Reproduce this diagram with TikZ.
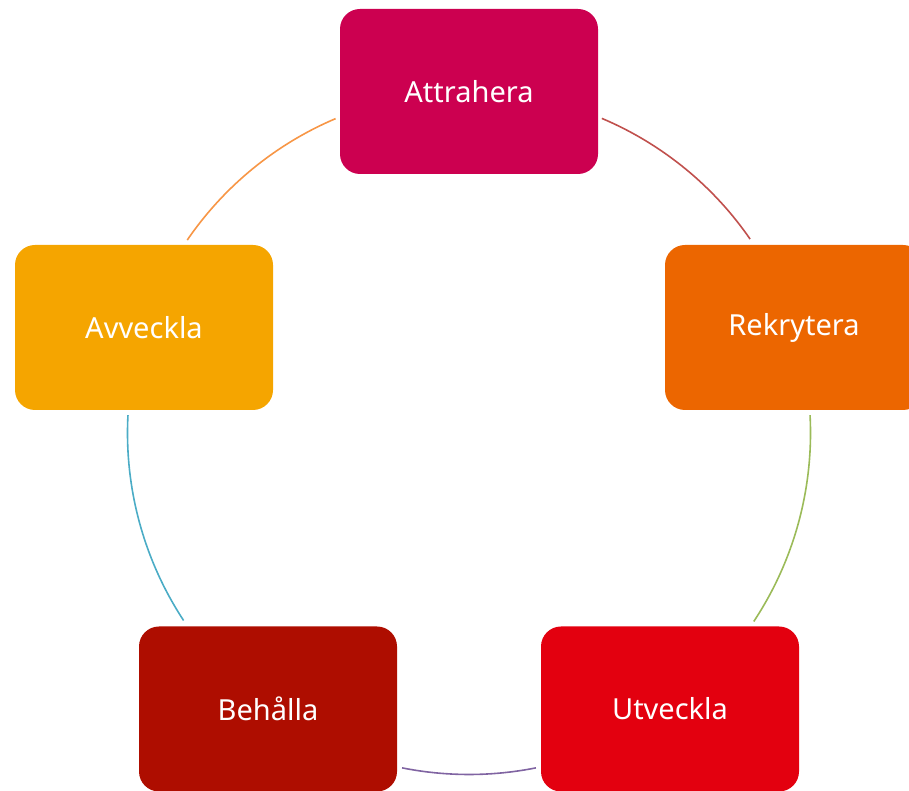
\documentclass[tikz,border=0pt]{standalone}
\usepackage{fontspec}
\setmainfont{Noto Sans}
\definecolor{cAttr}{RGB}{204,0,80}
\definecolor{cRekr}{RGB}{236,102,0}
\definecolor{cUtv}{RGB}{227,0,15}
\definecolor{cBeh}{RGB}{174,13,0}
\definecolor{cAvv}{RGB}{245,165,0}
\definecolor{aRed}{RGB}{192,80,77}
\definecolor{aGreen}{RGB}{155,187,89}
\definecolor{aPurple}{RGB}{128,100,162}
\definecolor{aBlue}{RGB}{75,172,198}
\definecolor{aOrange}{RGB}{247,150,70}
\begin{document}
\begin{tikzpicture}[x=1pt,y=1pt,
  stagebox/.style={rounded corners=20pt, minimum width=258pt, minimum height=165pt,
    inner sep=0pt, text=white, font=\fontsize{29}{33}\selectfont},
  cyclearc/.style={line width=1.6pt}]
\useasboundingbox (0,0) rectangle (909,791);
\clip (0,0) rectangle (909,791);
\coordinate (c) at (469,358);
\node[stagebox, fill=cAttr] (attr) at (469,699.5) {Attrahera};
\node[stagebox, fill=cRekr] (rekr) at (794,463.5) {Rekrytera};
\node[stagebox, fill=cUtv] (utv) at (670,82) {Utveckla};
\node[stagebox, fill=cBeh] (beh) at (268,82) {Behålla};
\node[stagebox, fill=cAvv] (avv) at (144,463.5) {Avveckla};
\draw[cyclearc, aRed] (c) ++(67.1:341.5) arc[start angle=67.1, end angle=34.6, radius=341.5];
\draw[cyclearc, aGreen] (c) ++(3:341.5) arc[start angle=3, end angle=-33.5, radius=341.5];
\draw[cyclearc, aPurple] (c) ++(-78.7:341.5) arc[start angle=-78.7, end angle=-101.3, radius=341.5];
\draw[cyclearc, aBlue] (c) ++(-146.7:341.5) arc[start angle=-146.7, end angle=-183, radius=341.5];
\draw[cyclearc, aOrange] (c) ++(145.6:341.5) arc[start angle=145.6, end angle=113, radius=341.5];
\end{tikzpicture}
\end{document}
